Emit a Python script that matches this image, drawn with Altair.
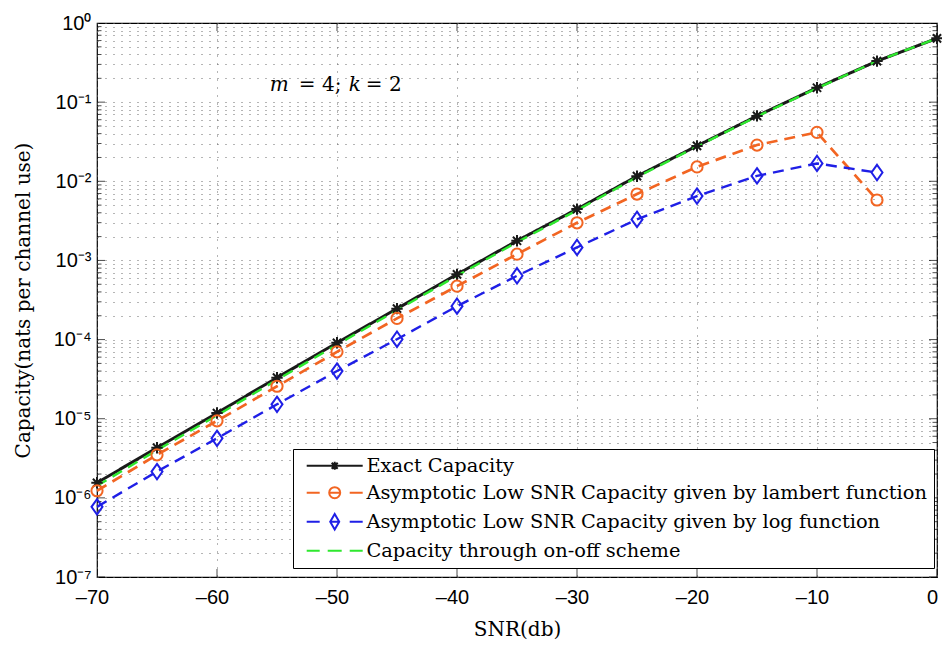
import json
import altair as alt
import pandas as pd

# ---------------- data ----------------
snr = [-70, -65, -60, -55, -50, -45, -40, -35, -30, -25, -20, -15, -10, -5, 0]
exact_capacity = [1.55e-6, 4.3e-6, 1.18e-5, 3.3e-5, 9.1e-5, 2.46e-4, 6.67e-4,
                  1.77e-3, 4.45e-3, 1.16e-2, 2.8e-2, 6.7e-2, 0.152, 0.33, 0.64]
lambert_capacity = [1.23e-6, 3.5e-6, 9.4e-6, 2.57e-5, 7.0e-5, 1.85e-4, 4.73e-4,
                    1.2e-3, 2.99e-3, 6.9e-3, 1.52e-2, 2.87e-2, 4.15e-2, 5.8e-3]
log_capacity = [7.7e-7, 2.15e-6, 5.65e-6, 1.52e-5, 4.0e-5, 1.01e-4, 2.64e-4,
                6.4e-4, 1.46e-3, 3.3e-3, 6.5e-3, 1.17e-2, 1.68e-2, 1.29e-2]
onoff_capacity = [1.42e-6, 4.0e-6, 1.1e-5, 3.1e-5, 8.6e-5, 2.35e-4, 6.4e-4,
                  1.7e-3, 4.3e-3, 1.13e-2, 2.75e-2, 6.6e-2, 0.15, 0.33, 0.64]

series_names = [
    "Exact Capacity",
    "Asymptotic Low SNR Capacity given by lambert function",
    "Asymptotic Low SNR Capacity given by log function",
    "Capacity through on-off scheme",
]
series_colors = ["#1a1a1a", "#F26522", "#1F1FE6", "#2EE82E"]

x_ticks = [-70, -60, -50, -40, -30, -20, -10, 0]
y_major = [1e-7, 1e-6, 1e-5, 1e-4, 1e-3, 1e-2, 1e-1, 1.0]
y_labels_by_exp = ["10⁰", "10⁻¹", "10⁻²", "10⁻³", "10⁻⁴", "10⁻⁵", "10⁻⁶", "10⁻⁷"]
y_minor = [m * 10.0 ** e for e in range(-7, 0) for m in range(2, 10)]

annotation_x = -55.6
annotation_y = 0.165
annotation_parts = [("m", "italic", 0), ("= 4;", "normal", 29), ("k", "italic", 79), ("= 2", "normal", 96)]

# ---------------- tables ----------------
rows = []
for name, vals in zip(series_names, [exact_capacity, lambert_capacity, log_capacity, onoff_capacity]):
    for x, v in zip(snr, vals):
        rows.append({"snr": x, "cap": v, "series": name})
df = pd.DataFrame(rows)

major_y_ticks = pd.DataFrame([{"snr": xe, "cap": v} for xe in (-70, 0) for v in y_major])
minor_y_ticks = pd.DataFrame([{"snr": xe, "cap": v} for xe in (-70, 0) for v in y_minor])
x_tick_df = pd.DataFrame([{"snr": x, "cap": yv} for x in x_ticks for yv in (1e-7, 1.0)])

# ---------------- scales / axes ----------------
xs = alt.Scale(domain=[-70, 0], nice=False, zero=False)
ys = alt.Scale(type="log", domain=[1e-7, 1], nice=False)

label_font = "Liberation Sans"
title_font = "DejaVu Serif"
grid_dash = [1, 7]
grid_color = "#6a6a6a"

x_axis = alt.Axis(
    values=x_ticks, title="SNR(db)", grid=True, gridDash=grid_dash, gridColor=grid_color,
    gridWidth=1, ticks=False, domain=False, labelFont=label_font, labelFontSize=20,
    labelColor="black", labelPadding=10, labelFlush=False, labelOffset=-5,
    labelExpr="datum.value < 0 ? '–' + abs(datum.value) : '' + datum.value",
    titleFont=title_font, titleFontSize=20, titleFontWeight="normal", titleColor="black",
    titleY=42,
)
label_arr = json.dumps(y_labels_by_exp, ensure_ascii=False)
y_axis = alt.Axis(
    values=sorted(y_major + y_minor), title="Capacity(nats per channel use)", grid=True,
    gridDash=grid_dash, gridColor=grid_color, gridWidth=1, ticks=False, domain=False,
    labelFont=label_font, labelFontSize=20, labelColor="black", labelPadding=6,
    labelOverlap=False, labelFlush=False,
    labelExpr=("abs(datum.value / pow(10, round(log(datum.value) / LN10)) - 1) < 0.001 ? "
               + label_arr + "[-round(log(datum.value) / LN10)] : ''"),
    titleFont=title_font, titleFontSize=20, titleFontWeight="normal", titleColor="black",
    titleX=-64, titleY=277,
)

X = alt.X("snr:Q", scale=xs, axis=x_axis)
Y = alt.Y("cap:Q", scale=ys, axis=y_axis)
Xn = alt.X("snr:Q", scale=xs)
Yn = alt.Y("cap:Q", scale=ys)

three = series_names[:3]

lines = alt.Chart(df).transform_filter(
    alt.FieldOneOfPredicate(field="series", oneOf=three)
).mark_line().encode(
    x=X, y=Y,
    color=alt.Color("series:N", scale=alt.Scale(domain=three, range=series_colors[:3]), legend=None),
    strokeDash=alt.StrokeDash("series:N", scale=alt.Scale(domain=three, range=[[1, 0], [11, 7], [11, 7]]), legend=None),
    strokeWidth=alt.StrokeWidth("series:N", scale=alt.Scale(domain=three, range=[3.0, 2.4, 2.4]), legend=None),
)

green_line = alt.Chart(df).transform_filter(
    alt.FieldEqualPredicate(field="series", equal=series_names[3])
).mark_line(strokeWidth=2.4, color=series_colors[3], strokeDash=[11, 7]).encode(x=Xn, y=Yn)

asterisk = "M-1,0H1M0,-1V1M-0.72,-0.72L0.72,0.72M-0.72,0.72L0.72,-0.72"
diamond = "M0,-1.4L1,0L0,1.4L-1,0Z"
points = alt.Chart(df).transform_filter(
    alt.FieldOneOfPredicate(field="series", oneOf=three)
).mark_point(filled=False, opacity=1, strokeWidth=2).encode(
    x=Xn, y=Yn,
    color=alt.Color("series:N", scale=alt.Scale(domain=three, range=series_colors[:3]), legend=None),
    shape=alt.Shape("series:N", scale=alt.Scale(domain=three, range=[asterisk, "circle", diamond]), legend=None),
    size=alt.Size("series:N", scale=alt.Scale(domain=three, range=[130, 121, 144]), legend=None),
)

legend_paths = [
    "M-5.6,0H5.6M-0.8,0H0.8M0,-0.8V0.8M-0.6,-0.6L0.6,0.6M-0.6,0.6L0.6,-0.6",
    "M-5.6,0H-3M3,0H5.6M1.1,0A1.1,1.1 0 1,1 -1.1,0A1.1,1.1 0 1,1 1.1,0M-1.1,0H1.1",
    "M-5.6,0H-3M3,0H5.6M0,-1.55L0.9,0L0,1.55L-0.9,0ZM-0.9,0H0.9",
    "M-5.6,0H-3M-1.4,0H1.4M3,0H5.6",
]
leg = alt.Legend(
    title=None, orient="none", legendX=196, legendY=426, direction="vertical",
    fillColor="white", strokeColor="black", padding=7, rowPadding=6,
    symbolSize=100, symbolStrokeWidth=2, symbolOffset=25, labelOffset=22,
    labelFont=title_font, labelFontSize=19.4, labelColor="black", labelLimit=800,
)
legend_layer = alt.Chart(df).transform_filter("datum.snr > 1000").mark_point(
    filled=False, opacity=1, strokeWidth=2
).encode(
    x=Xn, y=Yn,
    color=alt.Color("series:N", scale=alt.Scale(domain=series_names, range=series_colors), legend=leg),
    shape=alt.Shape("series:N", scale=alt.Scale(domain=series_names, range=legend_paths), legend=leg),
)

tick_major = alt.Chart(major_y_ticks).mark_tick(orient="horizontal", size=16, thickness=1, color="black", clip=True).encode(x=Xn, y=Yn)
tick_minor = alt.Chart(minor_y_ticks).mark_tick(orient="horizontal", size=9, thickness=1, color="black", clip=True).encode(x=Xn, y=Yn)
tick_x = alt.Chart(x_tick_df).mark_tick(orient="vertical", size=16, thickness=1, color="black", clip=True).encode(x=Xn, y=Yn)

ann_df = pd.DataFrame([{"snr": annotation_x, "cap": annotation_y}])
ann_layers = [
    alt.Chart(ann_df).mark_text(text=t, fontStyle=st, dx=dx, align="left", baseline="middle",
                                font=title_font, fontSize=20, color="black").encode(x=Xn, y=Yn)
    for t, st, dx in annotation_parts
]

chart = alt.layer(
    tick_minor, tick_major, tick_x, lines, green_line, points, legend_layer, *ann_layers
).resolve_scale(
    color="independent", shape="independent", strokeDash="independent", size="independent",
    strokeWidth="independent",
).properties(
    width=840, height=554,
    autosize=alt.AutoSizeParams(type="none"),
    padding={"left": 97, "top": 23, "right": 5, "bottom": 70},
    background="white",
).configure_view(stroke="black", strokeWidth=1.2)

chart.save("out.html", embed_options={"renderer": "svg", "actions": False})
